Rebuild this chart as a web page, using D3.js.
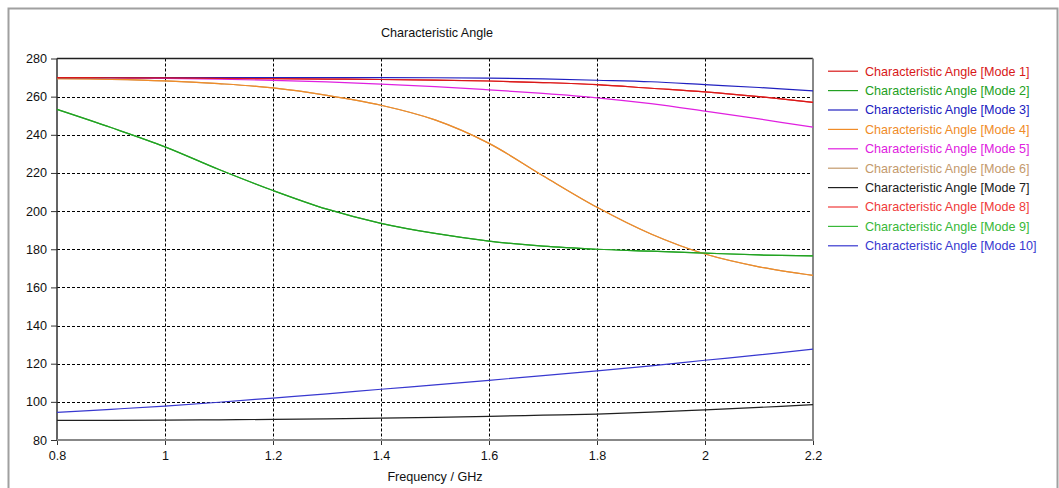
<!DOCTYPE html>
<html>
<head>
<meta charset="utf-8">
<script src="https://cdn.jsdelivr.net/npm/d3@7"></script>
<style>
  html, body { margin: 0; padding: 0; background: #ffffff; }
  svg { display: block; font-family: "Liberation Sans", Arial, sans-serif; }
</style>
</head>
<body>
<svg id="chart" width="1059" height="488"></svg>
<script>
// Frequency samples (GHz)
const freq = [0.8, 0.9, 1.0, 1.1, 1.2, 1.3, 1.4, 1.5, 1.6, 1.7, 1.8, 1.9, 2.0, 2.1, 2.2];

// Characteristic angle per mode (degrees)
const mode1  = [270, 269.9, 269.8, 269.6, 269.4, 269.2, 269.0, 268.7, 268.2, 267.4, 266.3, 264.4, 262.5, 260.0, 257.0];
const mode2  = [253.3, 243.8, 233.7, 221.8, 210.8, 201.0, 193.6, 188.3, 184.3, 181.6, 180.0, 179.0, 178.0, 177.0, 176.5];
const mode3  = [270, 270, 270, 270, 270, 270, 270, 269.9, 269.7, 269.3, 268.6, 267.8, 266.3, 264.8, 263.0];
const mode4  = [269.5, 269.1, 268.3, 266.8, 264.6, 260.7, 255.5, 247.8, 235.5, 218.5, 202.0, 188.0, 177.5, 170.8, 166.3];
const mode5  = [270, 269.9, 269.6, 269.2, 268.5, 267.7, 266.6, 265.3, 263.6, 261.7, 259.4, 256.3, 252.4, 248.3, 244.0];
const mode6  = [269.5, 269.1, 268.3, 266.8, 264.6, 260.7, 255.5, 247.8, 235.5, 218.5, 202.0, 188.0, 177.5, 170.8, 166.3];
const mode7  = [90.3, 90.3, 90.4, 90.6, 90.8, 91.1, 91.5, 91.9, 92.4, 93.0, 93.6, 94.6, 95.8, 97.1, 98.5];
const mode8  = [270, 269.9, 269.8, 269.6, 269.4, 269.2, 269.0, 268.7, 268.2, 267.4, 266.3, 264.4, 262.5, 260.0, 257.0];
const mode9  = [253.3, 243.8, 233.7, 221.8, 210.8, 201.0, 193.6, 188.3, 184.3, 181.6, 180.0, 179.0, 178.0, 177.0, 176.5];
const mode10 = [94.5, 96.1, 97.8, 99.8, 102.0, 104.2, 106.6, 108.9, 111.3, 113.7, 116.2, 118.9, 121.8, 124.6, 127.6];

const seriesNames = ["Characteristic Angle [Mode 1]", "Characteristic Angle [Mode 2]", "Characteristic Angle [Mode 3]",
  "Characteristic Angle [Mode 4]", "Characteristic Angle [Mode 5]", "Characteristic Angle [Mode 6]",
  "Characteristic Angle [Mode 7]", "Characteristic Angle [Mode 8]", "Characteristic Angle [Mode 9]",
  "Characteristic Angle [Mode 10]"];
const seriesValues = [mode1, mode2, mode3, mode4, mode5, mode6, mode7, mode8, mode9, mode10];
const seriesColors = ["#d81818", "#22a022", "#2020c0", "#f08c28", "#e020e0", "#c49a6c", "#202020", "#f03a3a", "#38b838", "#3838d0"];

const xTicks = [0.8, 1, 1.2, 1.4, 1.6, 1.8, 2, 2.2];
const yTicks = [80, 100, 120, 140, 160, 180, 200, 220, 240, 260, 280];

const chartTitle = "Characteristic Angle";
const xTitle = "Frequency / GHz";

const svg = d3.select("#chart");
const plot = { left: 57, right: 813, top: 58.5, bottom: 440 };
const fontSize = 12.6;

const x = d3.scaleLinear().domain([0.8, 2.2]).range([plot.left, plot.right]);
const y = d3.scaleLinear().domain([80, 280]).range([plot.bottom, plot.top]);

// Outer panel frame
svg.append("rect")
  .attr("x", 8.5).attr("y", 8.5).attr("width", 1049).attr("height", 490)
  .attr("fill", "#ffffff").attr("stroke", "#a0a0a0").attr("stroke-width", 2);

// Title
svg.append("text")
  .attr("x", 437).attr("y", 37)
  .attr("text-anchor", "middle").attr("font-size", fontSize).attr("fill", "#111")
  .text(chartTitle);

// Grid lines
const grid = svg.append("g").attr("stroke", "#000").attr("stroke-width", 1).attr("stroke-dasharray", "3,2");
grid.selectAll("line.gx").data(xTicks.slice(1, -1)).join("line")
  .attr("x1", d => Math.round(x(d)) + 0.5).attr("x2", d => Math.round(x(d)) + 0.5)
  .attr("y1", plot.top).attr("y2", plot.bottom);
grid.selectAll("line.gy").data(yTicks.slice(1, -1)).join("line")
  .attr("y1", d => Math.round(y(d)) + 0.5).attr("y2", d => Math.round(y(d)) + 0.5)
  .attr("x1", plot.left).attr("x2", plot.right);

// Axes
const xAxis = svg.append("g")
  .attr("transform", `translate(0,${plot.bottom})`)
  .call(d3.axisBottom(x).tickValues(xTicks).tickFormat(d3.format("")).tickSize(5).tickPadding(6));
const yAxis = svg.append("g")
  .attr("transform", `translate(${plot.left},0)`)
  .call(d3.axisLeft(y).tickValues(yTicks).tickFormat(d3.format("")).tickSize(6).tickPadding(4));
[xAxis, yAxis].forEach(g => {
  g.select(".domain").remove();
  g.selectAll(".tick line").attr("stroke", "#333");
  g.selectAll(".tick text").attr("font-size", fontSize).attr("fill", "#111")
    .attr("font-family", "Liberation Sans, Arial, sans-serif");
});

// Plot frame
svg.append("line").attr("x1", plot.left).attr("x2", plot.right).attr("y1", plot.top).attr("y2", plot.top)
  .attr("stroke", "#202020").attr("stroke-width", 1.5);
svg.append("line").attr("x1", plot.left).attr("x2", plot.left).attr("y1", plot.top).attr("y2", plot.bottom)
  .attr("stroke", "#303030").attr("stroke-width", 1.5);
svg.append("line").attr("x1", plot.left).attr("x2", plot.right + 1).attr("y1", plot.bottom).attr("y2", plot.bottom)
  .attr("stroke", "#888").attr("stroke-width", 2);
svg.append("line").attr("x1", plot.right).attr("x2", plot.right).attr("y1", plot.top).attr("y2", plot.bottom)
  .attr("stroke", "#888").attr("stroke-width", 2);

// Curves (higher mode numbers drawn first)
const line = d3.line().x((d, i) => x(freq[i])).y(d => y(d)).curve(d3.curveCatmullRom.alpha(0.5));
const order = d3.range(seriesValues.length).reverse();
svg.append("g").attr("fill", "none").attr("stroke-width", 1.2)
  .selectAll("path").data(order).join("path")
  .attr("stroke", i => seriesColors[i])
  .attr("d", i => line(seriesValues[i]));

// Legend
const legend = svg.append("g");
const rows = legend.selectAll("g").data(seriesNames).join("g")
  .attr("transform", (d, i) => `translate(0,${70.7 + i * 19.4})`);
rows.append("line").attr("x1", 828).attr("x2", 858).attr("y1", 0.5).attr("y2", 0.5)
  .attr("stroke", (d, i) => seriesColors[i]).attr("stroke-width", 1.2);
rows.append("text").attr("x", 865).attr("y", 4.8)
  .attr("font-size", fontSize).attr("fill", (d, i) => seriesColors[i])
  .text(d => d);

// X axis title
svg.append("text")
  .attr("x", 435).attr("y", 481)
  .attr("text-anchor", "middle").attr("font-size", fontSize).attr("fill", "#111")
  .text(xTitle);
</script>
</body>
</html>
